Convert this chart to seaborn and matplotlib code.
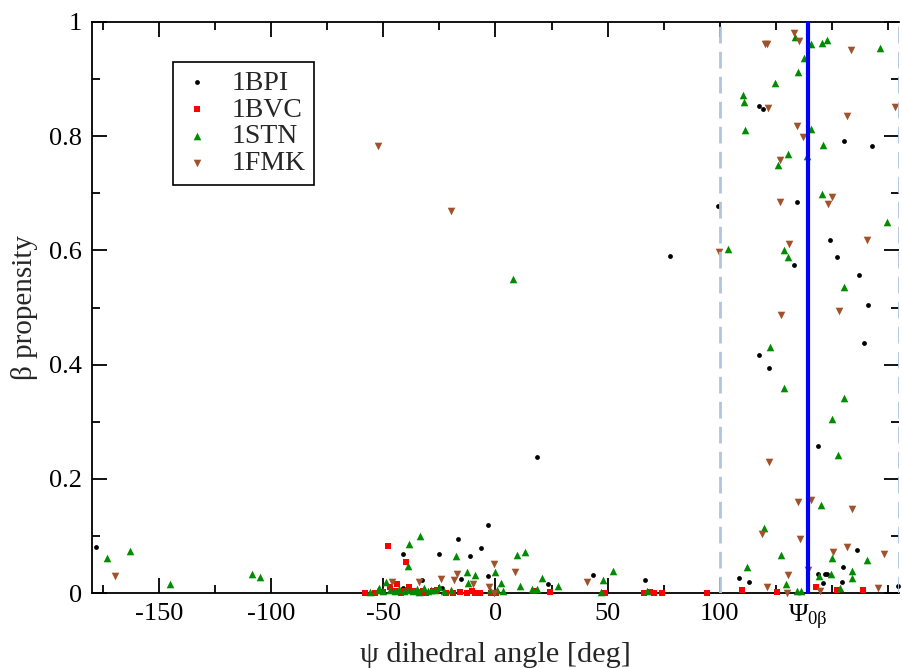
import numpy as np
import pandas as pd
import matplotlib
matplotlib.use("Agg")
import matplotlib.pyplot as plt
import seaborn as sns
from matplotlib.ticker import FixedLocator, FixedFormatter

# ---------------- data ----------------
bpi_x = [-178, 18.4, 78, 99.4, 117.4, 119.3, 155.4, 168, 134.3, 149.4, 152.4, 133.3,
         162.3, 166.2, 164.6, 117.4, 122.1, 143.9, 161.3, 155.2, 143.7, 147.1, 148,
         108.8, 113.2, 146.3, 154.5, 179.5,
         -41.2, -16.8, -25.3, -32.9, -24, -3.4, -6.4, -11.5, -15.2, -3.3, 23.2, -41.2,
         43.6, 66.8]
bpi_y = [0.081, 0.238, 0.590, 0.678, 0.853, 0.848, 0.792, 0.782, 0.684, 0.618, 0.589, 0.574,
         0.557, 0.504, 0.438, 0.417, 0.394, 0.257, 0.076, 0.045, 0.034, 0.034, 0.034,
         0.027, 0.019, 0.018, 0.020, 0.012,
         0.068, 0.094, 0.069, 0.022, 0.009, 0.119, 0.078, 0.065, 0.025, 0.030, 0.016, 0.008,
         0.031, 0.022]

bvc_x = [-48, -39.9, -43.9, -46.9, -38.4, -58.3, -53.8, -50, -45, -42, -40.5, -36.8, -36,
         -33.8, -32.3, -30.8, -28, -26.3, -21.9, -18.9, -16, -12.9, -10.7, -9, -7, -1.8,
         0.4, 17.1, 24.2, 48.8, 66.3, 68.9, 70.8, 74.1, 94.2, 110, 125.4, 143.1, 152.2, 164.1]
bvc_y = [0.082, 0.054, 0.016, 0.010, 0.011, 0.0, 0.0, 0.002, 0.003, 0.0, 0.003, 0.003, 0.002,
         0.0, 0.003, 0.0, 0.003, 0.005, 0.0, 0.0, 0.002, 0.0, 0.004, 0.0, 0.0, 0.0,
         0.0, 0.003, 0.002, 0.0, 0.0, 0.002, 0.0, 0.0, 0.0, 0.006, 0.002, 0.010, 0.005, 0.006]

stn_x = [-173.5, -163, -145, -108.7, -105, 7.7,
         -33.6, -38.6, -39.2, -17.4, -48.7, -52.1, -25.4, 9.7, 13.2, -0.2, -12.7, -9.2,
         20.8, 10.8, 16.3, 18.7, 2.4, 3.4, 27.7, -12.4, -2.4, 0.5, -52.4, -56, -32, -28.6,
         47.8, 52.2, 47, 67.4,
         -50, -47, -45, -43, -41, -39, -37, -35, -34, -30, -27, -23, -20,
         133.8, 140.8, 145.5, 147.8, 171.4, 137.6, 134.8, 124.7, 110.5, 110.7, 111.4,
         140.6, 146.1, 130.5, 138.8, 126, 145.8, 174.8, 103.6, 128.7, 130.6, 155.4, 122.6,
         128.7, 155.4, 150, 152.8, 145.1, 119.8, 127.5, 150, 165.9, 112, 159.2, 149.7,
         144.3, 158.9, 129.6, 153.7, 134.4, 136.2]
stn_y = [0.062, 0.074, 0.015, 0.034, 0.028, 0.550,
         0.100, 0.085, 0.047, 0.065, 0.020, 0.008, 0.010, 0.067, 0.071, 0.037, 0.036, 0.032,
         0.027, 0.013, 0.007, 0.007, 0.017, 0.003, 0.012, 0.018, 0.005, 0.005, 0.006, 0.002,
         0.009, 0.005,
         0.023, 0.038, 0.002, 0.003,
         0.004, 0.006, 0.003, 0.007, 0.004, 0.006, 0.003, 0.007, 0.002, 0.004, 0.006, 0.003, 0.005,
         0.974, 0.962, 0.963, 0.968, 0.954, 0.937, 0.913, 0.893, 0.873, 0.860, 0.810,
         0.813, 0.785, 0.768, 0.766, 0.750, 0.699, 0.649, 0.603, 0.601, 0.588, 0.536, 0.430,
         0.359, 0.342, 0.305, 0.242, 0.154, 0.113, 0.067, 0.061, 0.058, 0.045, 0.038, 0.033,
         0.029, 0.026, 0.016, 0.008, 0.003, 0.003]

fmk_x = [-169.6, -52.5, -19.9,
         -17.1, -24.3, -18.3, -34.2, -46, -0.6, 8.6, -10, -2.9, 40.6, -0.5,
         133.2, 135.5, 120.3, 121, 158.8, 121.6, 178.3, 156.7, 134.5, 137.2, 127.1, 150.1,
         126.8, 148.3, 165.6, 130.8, 99.8, 153.1, 127.2, 122.1, 135, 140.8, 159.2, 118.8,
         135.7, 156.7, 173.3, 150.4, 130.6, 139.4, 121, 170.7, 144.9, 129.9]
fmk_y = [0.029, 0.783, 0.669,
         0.033, 0.025, 0.022, 0.019, 0.019, 0.051, 0.037, 0.015, 0.011, 0.020, 0.0,
         0.981, 0.967, 0.961, 0.961, 0.951, 0.850, 0.852, 0.835, 0.818, 0.799, 0.758, 0.693,
         0.684, 0.682, 0.619, 0.611, 0.598, 0.493, 0.486, 0.229, 0.159, 0.162, 0.147, 0.103,
         0.094, 0.081, 0.069, 0.071, 0.032, 0.041, 0.010, 0.008, 0.004, 0.0]

series_names = ["1BPI", "1BVC", "1STN", "1FMK"]
psi_0beta = 139.5
dashed_x = [100, 180]

x_major = [-150, -100, -50, 0, 50, 100, psi_0beta]
x_major_labels = ["-150", "-100", "-50", "0", "50", "100", r"$\Psi_{0\beta}$"]
x_minor = [-175, -125, -75, -25, 25, 75, 125, 150, 175]
y_major = [0, 0.2, 0.4, 0.6, 0.8, 1.0]
y_major_labels = ["0", "0.2", "0.4", "0.6", "0.8", "1"]
y_minor = [0.1, 0.3, 0.5, 0.7, 0.9]

# ---------------- styling ----------------
sns.set_style("ticks")
plt.rcParams["font.family"] = ["Liberation Serif", "DejaVu Serif"]
plt.rcParams["mathtext.fontset"] = "custom"
plt.rcParams["mathtext.rm"] = "Liberation Serif"
plt.rcParams["mathtext.it"] = "Liberation Serif"
plt.rcParams["mathtext.bf"] = "Liberation Serif:bold"

frames = []
for name, xs, ys in [("1BPI", bpi_x, bpi_y), ("1BVC", bvc_x, bvc_y),
                     ("1STN", stn_x, stn_y), ("1FMK", fmk_x, fmk_y)]:
    frames.append(pd.DataFrame({"psi": xs, "prop": ys, "set": name}))
df = pd.concat(frames, ignore_index=True)

colors = {"1BPI": "#000000", "1BVC": "#ff0000", "1STN": "#008c00", "1FMK": "#a0522d"}
markers = {"1BPI": "o", "1BVC": "s", "1STN": "^", "1FMK": "v"}
sizes = {"1BPI": 12, "1BVC": 14, "1STN": 30, "1FMK": 30}

fig = plt.figure(figsize=(9.02, 6.68), dpi=100)
ax = fig.add_axes([92 / 902, 1 - 593 / 668, (899 - 92) / 902, (593 - 22) / 668])

for name in series_names:
    sub = df[df["set"] == name]
    sns.scatterplot(data=sub, x="psi", y="prop", ax=ax, color=colors[name],
                    marker=markers[name], s=sizes[name], linewidth=0,
                    label=name, clip_on=False, zorder=3)

for xv in dashed_x:
    ax.axvline(xv, color="#b0c4de", lw=2, ls=(0, (6, 3)), zorder=4)
ax.axvline(psi_0beta, color="#0000ff", lw=3, zorder=5)

ax.set_xlim(-180, 180)
ax.set_ylim(0, 1)
ax.xaxis.set_major_locator(FixedLocator(x_major))
ax.xaxis.set_major_formatter(FixedFormatter(x_major_labels))
ax.xaxis.set_minor_locator(FixedLocator(x_minor))
ax.yaxis.set_major_locator(FixedLocator(y_major))
ax.yaxis.set_major_formatter(FixedFormatter(y_major_labels))
ax.yaxis.set_minor_locator(FixedLocator(y_minor))

ax.tick_params(which="both", direction="in", top=True, right=True, colors="black",
               labelsize=19, width=1.3)
ax.tick_params(which="major", length=11, pad=7)
ax.tick_params(which="minor", length=6)
for s in ax.spines.values():
    s.set_linewidth(1.3)
    s.set_color("black")
ax.spines["right"].set_visible(False)

ax.set_xlabel("ψ dihedral angle [deg]", fontsize=21.8, labelpad=7)
ax.set_ylabel("β propensity", fontsize=21, labelpad=8)

leg = ax.legend(loc="upper left", bbox_to_anchor=(0.1004, 0.93), borderaxespad=0,
                frameon=True, fancybox=False, framealpha=1, edgecolor="black",
                fontsize=20, handletextpad=0.65, labelspacing=0.05, borderpad=0.3,
                handlelength=1.15, markerscale=1.0)
leg.get_frame().set_linewidth(1.2)

fig.savefig("out.png", dpi=100)
